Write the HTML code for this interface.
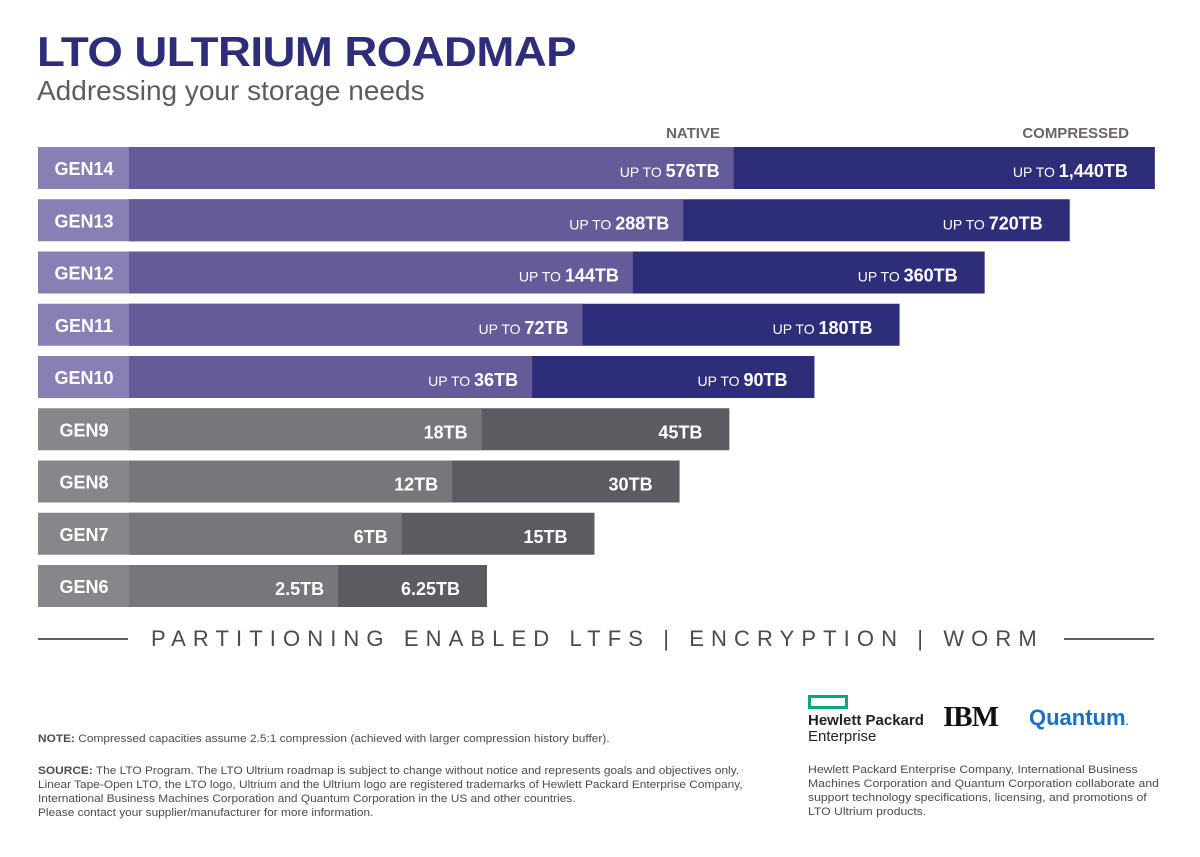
<!DOCTYPE html>
<html><head><meta charset="utf-8"><style>
body{margin:0;background:#fff;width:1200px;height:857px;overflow:hidden;font-family:"Liberation Sans",sans-serif;position:relative}
.t{position:absolute;white-space:nowrap}
</style></head><body>
<div class="t" style="left:37px;top:28px;font-size:42px;font-weight:900;color:#2e2d7a;letter-spacing:-0.5px;transform:scaleX(1.085);transform-origin:left">LTO ULTRIUM ROADMAP</div>
<div class="t" style="left:37px;top:75px;font-size:28px;color:#5c5d62">Addressing your storage needs</div>
<svg id="chart" width="1200" height="620" style="position:absolute;left:0;top:110px" font-family="Liberation Sans, sans-serif"></svg>
<div class="t" style="left:38px;top:626px;width:1116px;height:26px">
<div style="position:absolute;left:0;top:12px;width:90px;height:2px;background:#5c5d62"></div>
<div style="position:absolute;left:1026px;top:12px;width:90px;height:2px;background:#5c5d62"></div>
<div style="position:absolute;left:113px;top:0;font-size:22px;letter-spacing:7.1px;color:#4a4b50">PARTITIONING ENABLED LTFS | ENCRYPTION | WORM</div>
</div>
<div class="t" style="left:38px;top:733px;font-size:11px;color:#4a4b50;transform:scaleX(1.08);transform-origin:left"><b>NOTE:</b> Compressed capacities assume 2.5:1 compression (achieved with larger compression history buffer).</div>
<div class="t" style="left:38px;top:764px;font-size:11px;line-height:14px;color:#4a4b50;transform:scaleX(1.08);transform-origin:left"><b>SOURCE:</b> The LTO Program. The LTO Ultrium roadmap is subject to change without notice and represents goals and objectives only.<br>Linear Tape-Open LTO, the LTO logo, Ultrium and the Ultrium logo are registered trademarks of Hewlett Packard Enterprise Company,<br>International Business Machines Corporation and Quantum Corporation in the US and other countries.<br>Please contact your supplier/manufacturer for more information.</div>
<div class="t" style="left:808px;top:695px">
<div style="width:34px;height:8px;border:3px solid #01a982"></div>
<div style="font-size:15px;font-weight:bold;color:#222;margin-top:4px;line-height:16px">Hewlett Packard</div>
<div style="font-size:15px;color:#222;line-height:16px">Enterprise</div></div>
<div class="t" style="left:943px;top:701px;font-size:29px;font-weight:900;color:#111;letter-spacing:-1px;font-family:'Liberation Serif',serif;background:repeating-linear-gradient(#fff 0 2px,transparent 2px 5px);">IBM</div>
<div class="t" style="left:1029px;top:705px;font-size:22px;font-weight:bold;color:#1a6fc0">Quantum<span style="font-size:10px">.</span></div>
<div class="t" style="left:808px;top:763px;font-size:11px;line-height:14px;color:#4a4b50;transform:scaleX(1.11);transform-origin:left">Hewlett Packard Enterprise Company, International Business<br>Machines Corporation and Quantum Corporation collaborate and<br>support technology specifications, licensing, and promotions of<br>LTO Ultrium products.</div>
<script>
const gens=["GEN14","GEN13","GEN12","GEN11","GEN10","GEN9","GEN8","GEN7","GEN6"];
const nativeTB=[576,288,144,72,36,18,12,6,2.5];
const compressedTB=[1440,720,360,180,90,45,30,15,6.25];
const nativeLabels=["576TB","288TB","144TB","72TB","36TB","18TB","12TB","6TB","2.5TB"];
const compLabels=["1,440TB","720TB","360TB","180TB","90TB","45TB","30TB","15TB","6.25TB"];
const upTo=[true,true,true,true,true,false,false,false,false];
const NS="http://www.w3.org/2000/svg";
const svg=document.getElementById('chart');
const x0=129;
function xNative(v){return x0+142.5+50.4*Math.log2(v);}
function xComp(v){return x0+133+85.1*Math.log2(v);}
function yRow(i){return 37+i*52.25;}
function mk(tag,attrs){const e=document.createElementNS(NS,tag);for(const k in attrs)e.setAttribute(k,attrs[k]);svg.appendChild(e);return e;}
let t=mk('text',{x:720,y:28,'text-anchor':'end','font-size':15,'font-weight':'bold',fill:'#6b6460'});t.textContent='NATIVE';


t=mk('text',{x:1129,y:28,'text-anchor':'end','font-size':15,'font-weight':'bold',fill:'#6b6460'});t.textContent='COMPRESSED';


gens.forEach((g,i)=>{
  const y=yRow(i),h=42,p=upTo[i];
  const cl=p?'#8a7fb4':'#86878b',cn=p?'#645c98':'#76777b',cc=p?'#2e2d7a':'#5b5c61';
  const xn=xNative(nativeTB[i]),xc=xComp(compressedTB[i]);
  let r=mk('rect',{x:x0,y:y,width:xc-x0,height:h,fill:cc});
  
  
  r=mk('rect',{x:x0,y:y,width:xn-x0,height:h,fill:cn});
  
  
  r=mk('rect',{x:38,y:y,width:x0-38,height:h,fill:cl});
  
  
  let l=mk('text',{x:84,y:y+28,'text-anchor':'middle','font-size':18,'font-weight':'bold',fill:'#fff'});l.textContent=g;
  
  
  const nl=mk('text',{x:xn-14,y:y+30,'text-anchor':'end',fill:'#fff','font-weight':'900','font-size':18});
  
  
  nl.innerHTML=(p?'<tspan font-size="14" font-weight="normal">UP TO </tspan>':'')+nativeLabels[i];
  const cL=mk('text',{x:xc-27,y:y+30,'text-anchor':'end',fill:'#fff','font-weight':'900','font-size':18});
  
  
  cL.innerHTML=(p?'<tspan font-size="14" font-weight="normal">UP TO </tspan>':'')+compLabels[i];
});
</script>
</body></html>
